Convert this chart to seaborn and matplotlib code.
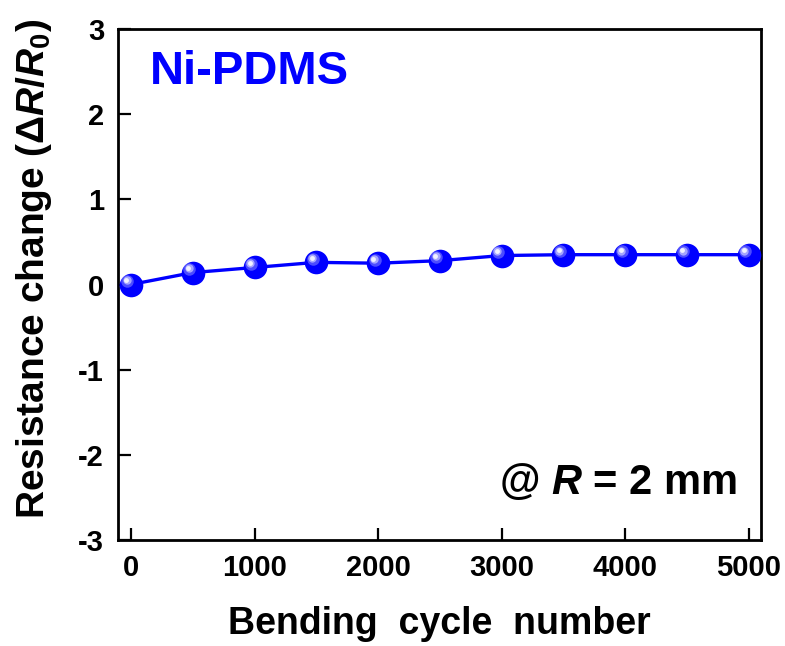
import matplotlib
matplotlib.use("Agg")
import matplotlib.pyplot as plt
import matplotlib.transforms as mtransforms
import seaborn as sns
import pandas as pd

cycles = [0, 500, 1000, 1500, 2000, 2500, 3000, 3500, 4000, 4500, 5000]
resistance = [0.0, 0.14, 0.20, 0.26, 0.25, 0.28, 0.34, 0.35, 0.35, 0.35, 0.35]
xticks = [0, 1000, 2000, 3000, 4000, 5000]
yticks = [-3, -2, -1, 0, 1, 2, 3]

df = pd.DataFrame({"cycle": cycles, "dR": resistance})

sns.set_theme(style="ticks")
plt.rcParams['font.family'] = ['Liberation Sans', 'DejaVu Sans']
plt.rcParams['mathtext.fontset'] = 'custom'
plt.rcParams['mathtext.rm'] = 'Liberation Sans:bold'
plt.rcParams['mathtext.it'] = 'Liberation Sans:bold:italic'
plt.rcParams['mathtext.bf'] = 'Liberation Sans:bold'
plt.rcParams['axes.unicode_minus'] = False
plt.rcParams['text.color'] = 'black'
plt.rcParams['axes.labelcolor'] = 'black'
plt.rcParams['xtick.color'] = 'black'
plt.rcParams['ytick.color'] = 'black'

fig = plt.figure(figsize=(7.85, 6.46), dpi=100)
ax = fig.add_axes([118/785, 1-540/646, (761-118)/785, (540-29)/646])

blue = "#0000FF"
sns.lineplot(data=df, x="cycle", y="dR", ax=ax, color=blue, lw=2.4,
             marker="o", markersize=17, markeredgewidth=0, markerfacecolor=blue,
             clip_on=False, zorder=3)
# sphere highlights
for dx, dy, ms, a in [(-2.5, 2.5, 9, 0.3), (-3, 3, 6, 0.5), (-3.3, 3.3, 3.5, 0.85)]:
    off = mtransforms.offset_copy(ax.transData, fig=fig, x=dx, y=dy, units='points')
    ax.plot(cycles, resistance, ls='none', marker='o', markersize=ms,
            markerfacecolor='white', markeredgewidth=0, alpha=a,
            transform=off, clip_on=False, zorder=4)

ax.set_xlim(-105, 5100)
ax.set_ylim(-3, 3)
ax.set_xticks(xticks)
ax.set_yticks(yticks)
ax.tick_params(direction='in', length=9, width=1.6, labelsize=21, pad=10)
for lab in ax.get_xticklabels() + ax.get_yticklabels():
    lab.set_fontweight('bold')
for s in ax.spines.values():
    s.set_linewidth(2.0)
    s.set_visible(True)
    s.set_color('black')

ax.set_xlabel("Bending  cycle  number", fontsize=27, fontweight='bold', labelpad=17)
ax.set_ylabel(r"Resistance change ($\Delta\mathit{R}/\mathit{R}_0$)", fontsize=28,
              fontweight='bold')
ax.yaxis.set_label_coords(-0.1, 0.53)

ax.text(0.05, 0.916, "Ni-PDMS", transform=ax.transAxes, color=blue,
        fontsize=34, fontweight='bold', va='center', ha='left')
ax.text(0.963, 0.113, r"@ $\mathit{R}$ = 2 mm", transform=ax.transAxes, color='black',
        fontsize=30, fontweight='bold', va='center', ha='right')

fig.savefig("out.png", dpi=100)
